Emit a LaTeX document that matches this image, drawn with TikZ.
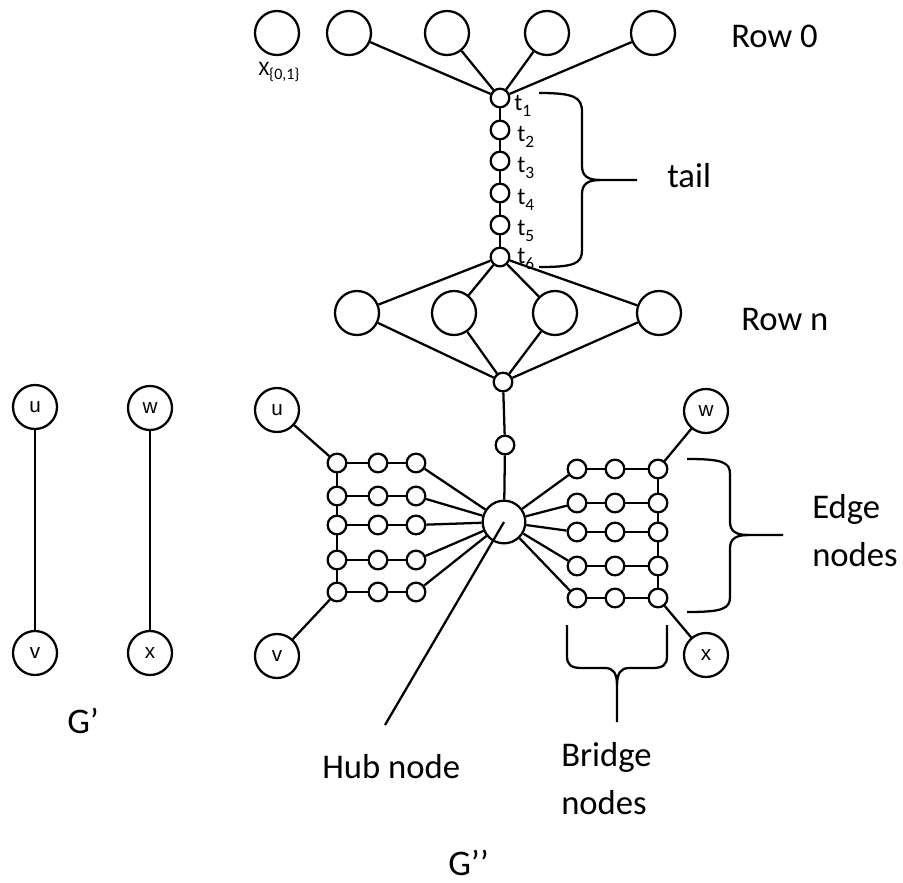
\documentclass[tikz,border=0pt]{standalone}
\usepackage{fontspec}
\setmainfont{Carlito}
\newfontfamily\nodefont{Liberation Sans}
\begin{document}
\begin{tikzpicture}[x=0.75pt,y=-0.75pt,
  link/.style={line width=1.7pt},
  bignode/.style={circle,draw,line width=1.7pt,minimum size=33pt,inner sep=0pt,
    font=\nodefont\fontsize{15.5}{16}\selectfont},
  dot/.style={circle,draw,line width=1.7pt,minimum size=14pt,inner sep=0pt},
  lbl/.style={inner sep=0pt,anchor=west,font=\fontsize{26}{36}\selectfont,align=left},
  tlbl/.style={inner sep=0pt,anchor=base west,font=\fontsize{18}{20}\selectfont},
  brace/.style={line width=1.7pt}
]
\useasboundingbox (0,0) rectangle (903,882);

% ---- G' ----
\node[bignode] (gu) at (35,407) {u};
\node[bignode] (gv) at (35,653) {v};
\node[bignode] (gw) at (150,408) {w};
\node[bignode] (gx) at (150,653) {x};
\draw[link] (gu) -- (gv);
\draw[link] (gw) -- (gx);
\node[inner sep=0pt,anchor=base west,font=\fontsize{27}{30}\selectfont] (gp) at (67,733) {G’};

% ---- Row 0 ----
\node[bignode] (c1) at (277,33) {};
\node[bignode] (c2) at (349,33) {};
\node[bignode] (c3) at (447,33) {};
\node[bignode] (c4) at (547,33) {};
\node[bignode] (c5) at (653,33) {};
\node[inner sep=0pt,font=\fontsize{15.5}{16}\selectfont] (xl) at (279,72)
  {X\raisebox{-2.5pt}{\fontsize{12}{12}\selectfont\{0,1\}}};
\node[lbl] (row0) at (731,36) {Row 0};

% ---- tail ----
\foreach \i/\y in {1/98,2/130,3/161,4/193,5/225,6/257}
  \node[dot] (t\i) at (500,\y) {};
\foreach \i/\x/\y in {1/514/110,2/517/141,3/517/172,4/517/204,5/517/235,6/517/263}
  \node[tlbl] (tl\i) at (\x,\y) {t\raisebox{-5pt}{\fontsize{13}{13}\selectfont\i}};
\draw[link] (t1) -- (t2) -- (t3) -- (t4) -- (t5) -- (t6);
\foreach \c in {c2,c3,c4,c5} \draw[link] (\c) -- (t1);

\coordinate (tb1) at (539,93);
\coordinate (tb2) at (539,267);
\coordinate (tbtip) at (637,180);
\draw[brace] (tb1) .. controls (574,93) and (582,97) .. (582,112) -- (582,166)
  .. controls (582,176) and (588,180) .. (600,180) -- (tbtip);
\draw[brace] (600,180) .. controls (588,180) and (582,184) .. (582,194) -- (582,250)
  .. controls (582,264) and (574,267) .. (tb2);
\node[lbl] (tail) at (667,176) {tail};

% ---- Row n ----
\node[bignode] (r1) at (357,313) {};
\node[bignode] (r2) at (454,313) {};
\node[bignode] (r3) at (555,313) {};
\node[bignode] (r4) at (659,313) {};
\node[lbl] (rown) at (741,319) {Row n};
\node[dot] (j) at (503,382) {};
\foreach \r in {r1,r2,r3,r4} {
  \draw[link] (t6) -- (\r);
  \draw[link] (\r) -- (j);
}

% ---- stem and hub ----
\node[dot] (s) at (505,445) {};
\node[bignode,minimum size=32pt] (hub) at (504,522) {};
\draw[link] (j) -- (s) -- (hub);
\coordinate (hubtip) at (385,725);
\draw[link] (hub.center) -- (hubtip);
\node[lbl] (hubl) at (322,767) {Hub node};

% ---- left gadget ----
\node[bignode] (u) at (277,410) {u};
\node[bignode] (v) at (277,656) {v};
\foreach \i/\y in {1/463,2/496,3/525,4/560,5/592} {
  \node[dot] (a\i1) at (337,\y) {};
  \node[dot] (a\i2) at (378,\y) {};
  \node[dot] (a\i3) at (416,\y) {};
  \draw[link] (a\i1) -- (a\i2) -- (a\i3);
  \draw[link] (a\i3) -- (hub);
}
\draw[link] (a11) -- (a21) -- (a31) -- (a41) -- (a51);
\draw[link] (u) -- (a11);
\draw[link] (v) -- (a51);

% ---- right gadget ----
\node[bignode] (w) at (706,411) {w};
\node[bignode] (x) at (706,655) {x};
\foreach \i/\y in {1/469,2/503,3/532,4/566,5/598} {
  \node[dot] (b\i1) at (577,\y) {};
  \node[dot] (b\i2) at (615,\y) {};
  \node[dot] (b\i3) at (658,\y) {};
  \draw[link] (b\i1) -- (b\i2) -- (b\i3);
  \draw[link] (hub) -- (b\i1);
}
\draw[link] (b13) -- (b23) -- (b33) -- (b43) -- (b53);
\draw[link] (w) -- (b13);
\draw[link] (x) -- (b53);

% edge-node brace
\coordinate (eb1) at (687,459);
\coordinate (eb2) at (687,612);
\coordinate (ebtip) at (783,535);
\draw[brace] (eb1) .. controls (722,459) and (730,462) .. (730,474) -- (730,522)
  .. controls (730,531) and (736,535) .. (748,535) -- (ebtip);
\draw[brace] (748,535) .. controls (736,535) and (730,539) .. (730,548) -- (730,597)
  .. controls (730,609) and (722,612) .. (eb2);
\node[lbl] (edgel) at (812,531) {Edge\\nodes};

% bridge-node brace
\coordinate (bb1) at (567,625);
\coordinate (bb2) at (667,625);
\coordinate (bbtip) at (617,722);
\draw[brace] (bb1) -- (567,656) .. controls (567,665) and (571,668) .. (582,668) -- (605,668)
  .. controls (613,668) and (617,673) .. (617,685) -- (bbtip);
\draw[brace] (617,685) .. controls (617,673) and (621,668) .. (629,668) -- (652,668)
  .. controls (663,668) and (667,665) .. (667,656) -- (bb2);
\node[lbl] (bridgel) at (561,779) {Bridge\\nodes};

\node[inner sep=0pt,anchor=base west,font=\fontsize{27}{30}\selectfont] (gpp) at (448,875) {G’’};
\end{tikzpicture}
\end{document}
